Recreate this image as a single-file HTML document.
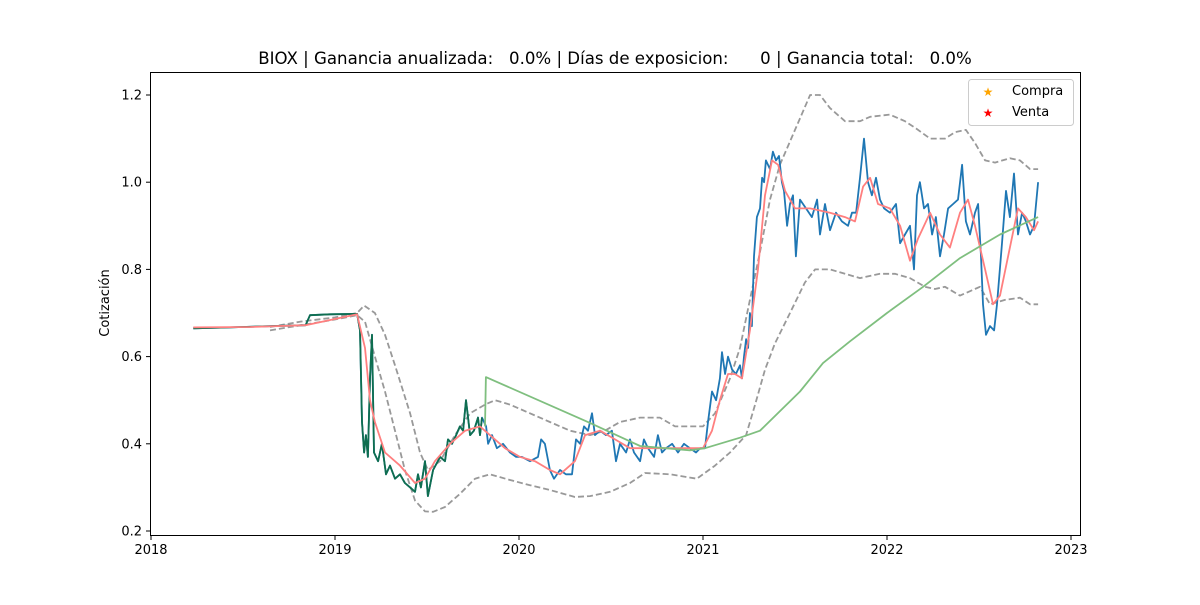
<!DOCTYPE html>
<html><head><meta charset="utf-8"><style>
body{margin:0;background:#fff;}
svg text{font-family:"DejaVu Sans","Liberation Sans",sans-serif;}
</style></head><body>
<svg id="chart" width="1200" height="600" xmlns="http://www.w3.org/2000/svg">
<text x="615" y="64" text-anchor="middle" font-size="16.6" fill="#000" xml:space="preserve">BIOX | Ganancia anualizada:   0.0% | Días de exposicion:      0 | Ganancia total:   0.0%</text>
<text transform="translate(109,303) rotate(-90)" text-anchor="middle" font-size="13">Cotización</text>
<g id="series"></g>
<g id="axes"></g>
<rect x="150.5" y="72.5" width="930" height="463" fill="none" stroke="#000" stroke-width="1"/>
<g>
<rect x="968.5" y="79.5" width="105" height="46" rx="3" fill="#fff" stroke="#ccc"/>
<text x="1012" y="95" font-size="13">Compra</text>
<text x="988" y="96" font-size="12" fill="orange" text-anchor="middle">★</text>
<text x="1012" y="116" font-size="13">Venta</text>
<text x="988" y="117" font-size="12" fill="red" text-anchor="middle">★</text>
</g>
</svg>
<script>
const baseYear = 2018;
const priceT = [0.23,0.43,0.65,0.84,0.864,0.973,1.12,1.136,1.147,1.158,1.168,1.179,1.19,1.201,1.212,1.234,1.255,1.277,1.299,1.326,1.353,1.38,1.408,1.435,1.451,1.467,1.489,1.505,1.533,1.571,1.598,1.614,1.636,1.658,1.679,1.696,1.712,1.734,1.755,1.777,1.788,1.799,1.821,1.832,1.853,1.88,1.913,1.951,1.984,2.016,2.06,2.103,2.12,2.141,2.168,2.19,2.223,2.255,2.288,2.31,2.332,2.353,2.375,2.397,2.413,2.44,2.473,2.505,2.527,2.549,2.582,2.603,2.625,2.658,2.679,2.701,2.734,2.755,2.777,2.799,2.832,2.864,2.897,2.929,2.962,2.984,3.011,3.027,3.049,3.071,3.092,3.103,3.12,3.136,3.158,3.179,3.201,3.212,3.223,3.234,3.245,3.255,3.266,3.277,3.293,3.31,3.321,3.332,3.342,3.364,3.38,3.397,3.413,3.429,3.44,3.457,3.473,3.489,3.505,3.527,3.56,3.592,3.62,3.636,3.663,3.69,3.723,3.755,3.788,3.81,3.832,3.853,3.875,3.897,3.918,3.94,3.962,3.984,4.016,4.049,4.071,4.098,4.125,4.147,4.163,4.179,4.201,4.223,4.245,4.266,4.288,4.31,4.332,4.359,4.386,4.408,4.429,4.451,4.478,4.495,4.511,4.522,4.538,4.56,4.582,4.598,4.625,4.647,4.668,4.69,4.712,4.734,4.755,4.777,4.799,4.821];
const priceV = [0.665,0.667,0.670,0.672,0.695,0.697,0.698,0.66,0.45,0.38,0.42,0.37,0.55,0.65,0.38,0.36,0.40,0.33,0.35,0.32,0.33,0.31,0.30,0.29,0.33,0.30,0.36,0.28,0.34,0.37,0.36,0.41,0.40,0.42,0.44,0.43,0.50,0.42,0.43,0.46,0.42,0.46,0.44,0.40,0.42,0.39,0.40,0.38,0.37,0.37,0.36,0.37,0.41,0.40,0.34,0.32,0.34,0.33,0.33,0.41,0.40,0.44,0.43,0.47,0.42,0.43,0.42,0.43,0.36,0.40,0.38,0.41,0.38,0.36,0.41,0.39,0.37,0.42,0.38,0.39,0.40,0.38,0.40,0.39,0.38,0.39,0.39,0.45,0.52,0.50,0.55,0.61,0.56,0.60,0.57,0.56,0.58,0.55,0.60,0.64,0.62,0.70,0.67,0.83,0.92,0.94,1.01,1.00,1.05,1.03,1.07,1.05,1.06,1.00,0.98,0.90,0.95,0.97,0.83,0.96,0.94,0.92,0.96,0.88,0.95,0.89,0.93,0.91,0.90,0.93,0.93,1.01,1.10,1.00,0.97,1.01,0.96,0.94,0.93,0.95,0.86,0.88,0.90,0.80,0.97,1.00,0.94,0.95,0.88,0.92,0.83,0.88,0.94,0.95,0.96,1.04,0.91,0.88,0.93,0.95,0.83,0.72,0.65,0.67,0.66,0.72,0.86,0.98,0.92,1.02,0.88,0.93,0.91,0.88,0.90,1.00];
const holdEnd = 1.82;
const maT = [0.23,0.54,0.84,1.12,1.163,1.19,1.217,1.272,1.353,1.435,1.489,1.543,1.625,1.707,1.788,1.842,1.924,2.005,2.087,2.168,2.223,2.304,2.359,2.44,2.522,2.603,2.712,2.821,2.929,3.0,3.049,3.092,3.136,3.174,3.212,3.255,3.299,3.337,3.375,3.408,3.446,3.5,3.582,3.69,3.772,3.826,3.87,3.908,3.951,4.016,4.071,4.125,4.168,4.234,4.288,4.342,4.397,4.44,4.478,4.533,4.576,4.614,4.668,4.712,4.755,4.799,4.821];
const maV = [0.667,0.668,0.672,0.697,0.62,0.50,0.45,0.38,0.35,0.31,0.32,0.36,0.40,0.43,0.44,0.42,0.39,0.37,0.36,0.34,0.33,0.36,0.42,0.43,0.41,0.39,0.39,0.39,0.39,0.39,0.43,0.50,0.56,0.56,0.55,0.66,0.80,0.97,1.05,1.04,0.98,0.94,0.94,0.93,0.92,0.91,0.99,1.01,0.95,0.94,0.90,0.82,0.87,0.93,0.88,0.85,0.93,0.96,0.90,0.80,0.72,0.74,0.85,0.94,0.92,0.89,0.91];
const longT = [1.815,1.82,2.386,2.658,2.929,3.011,3.201,3.31,3.527,3.652,3.799,4.0,4.196,4.397,4.614,4.821];
const longV = [0.44,0.553,0.448,0.395,0.385,0.39,0.414,0.43,0.52,0.585,0.635,0.70,0.76,0.826,0.88,0.92];
const upT = [0.647,0.81,1.0,1.12,1.158,1.217,1.272,1.326,1.408,1.462,1.505,1.571,1.652,1.734,1.815,1.87,1.951,2.06,2.168,2.277,2.386,2.467,2.549,2.658,2.766,2.848,2.929,3.0,3.065,3.147,3.201,3.255,3.31,3.364,3.418,3.5,3.582,3.636,3.69,3.772,3.853,3.908,4.016,4.098,4.152,4.234,4.315,4.37,4.429,4.478,4.533,4.587,4.668,4.723,4.777,4.821];
const upV = [0.668,0.68,0.69,0.70,0.717,0.70,0.65,0.58,0.47,0.38,0.34,0.36,0.42,0.47,0.49,0.50,0.49,0.47,0.45,0.43,0.42,0.43,0.45,0.46,0.46,0.44,0.44,0.44,0.47,0.55,0.62,0.73,0.84,0.96,1.04,1.12,1.20,1.20,1.17,1.14,1.14,1.15,1.155,1.14,1.125,1.10,1.10,1.115,1.12,1.09,1.05,1.045,1.055,1.05,1.03,1.03];
const lowT = [0.647,1.0,1.12,1.163,1.217,1.272,1.326,1.38,1.435,1.489,1.533,1.598,1.679,1.761,1.842,1.951,2.06,2.168,2.304,2.386,2.495,2.603,2.685,2.821,2.967,3.065,3.147,3.234,3.283,3.337,3.391,3.473,3.554,3.609,3.69,3.772,3.853,3.962,4.043,4.125,4.207,4.261,4.315,4.397,4.451,4.505,4.56,4.641,4.723,4.777,4.821];
const lowV = [0.66,0.685,0.695,0.68,0.60,0.52,0.43,0.34,0.27,0.245,0.244,0.255,0.285,0.32,0.33,0.317,0.305,0.294,0.278,0.28,0.29,0.31,0.333,0.33,0.32,0.35,0.38,0.42,0.49,0.57,0.63,0.70,0.77,0.80,0.80,0.79,0.78,0.79,0.79,0.78,0.76,0.755,0.76,0.74,0.75,0.76,0.72,0.73,0.735,0.72,0.72];
const yTicks = [0.2,0.4,0.6,0.8,1.0,1.2];
const xTicks = [2018,2019,2020,2021,2022,2023];

const NS = "http://www.w3.org/2000/svg";
function xs(yr){ return 151 + (yr - 2018) * 184; }
function ys(v){ return 531 - (v - 0.2) * 436; }
const g = document.getElementById('series');
function line(T, V, color, width, dash, name){
  const p = document.createElementNS(NS, 'path');
  let d = '';
  T.forEach((t,i)=>{ d += (i?'L':'M') + xs(baseYear + t).toFixed(1) + ',' + ys(V[i]).toFixed(1); });
  p.setAttribute('d', d);
  p.setAttribute('fill','none');
  p.setAttribute('stroke', color);
  p.setAttribute('stroke-width', width);
  p.setAttribute('stroke-linejoin','round');
  if (dash) p.setAttribute('stroke-dasharray', dash);
  
  
  g.appendChild(p);
}
line(upT, upV, '#999999', 1.8, '6,3', 'upper-band');
line(lowT, lowV, '#999999', 1.8, '6,3', 'lower-band');
line(priceT, priceV, '#1f77b4', 1.8, null, 'price-line');
const hT = [], hV = [];
priceT.forEach((t,i)=>{ if (t <= holdEnd) { hT.push(t); hV.push(priceV[i]); } });
line(hT, hV, '#0f6e4f', 1.8, null, 'holding-period-line');
line(maT, maV, '#ff7f7f', 1.8, null, 'short-moving-average');
line(longT, longV, '#7fbf7f', 1.8, null, 'long-moving-average');

const ax = document.getElementById('axes');
yTicks.forEach(v=>{
  const y = ys(v);
  const l = document.createElementNS(NS,'line');
  l.setAttribute('x1',146); l.setAttribute('x2',150); l.setAttribute('y1',y); l.setAttribute('y2',y);
  l.setAttribute('stroke','#000');
  
  
  ax.appendChild(l);
  const t = document.createElementNS(NS,'text');
  t.setAttribute('x',142); t.setAttribute('y',y+4.5); t.setAttribute('text-anchor','end'); t.setAttribute('font-size','13');
  t.textContent = v.toFixed(1);
  
  
  ax.appendChild(t);
});
xTicks.forEach(yr=>{
  const x = xs(yr);
  const l = document.createElementNS(NS,'line');
  l.setAttribute('x1',x); l.setAttribute('x2',x); l.setAttribute('y1',536); l.setAttribute('y2',540);
  l.setAttribute('stroke','#000');
  
  
  ax.appendChild(l);
  const t = document.createElementNS(NS,'text');
  t.setAttribute('x',x); t.setAttribute('y',554); t.setAttribute('text-anchor','middle'); t.setAttribute('font-size','13');
  t.textContent = yr;
  
  
  ax.appendChild(t);
});
</script>
</body></html>
